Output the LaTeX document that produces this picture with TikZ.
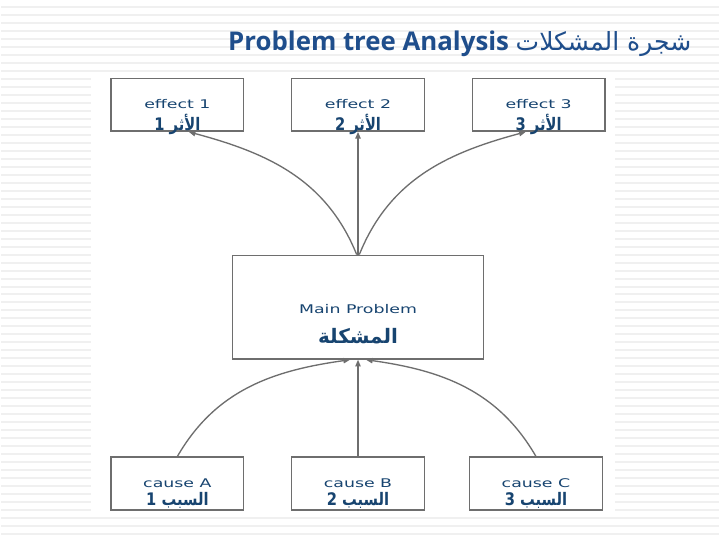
\documentclass[tikz,border=0pt]{standalone}
\usepackage{fontspec}
\usepackage{graphicx}
\usetikzlibrary{arrows.meta,positioning}
\setmainfont{DejaVu Sans}
\newfontfamily\arfont[Script=Arabic]{DejaVu Sans}
\newfontfamily\titlefont{Open Sans}
\TeXXeTstate=1
\definecolor{boxblue}{HTML}{174470}
\definecolor{titleblue}{HTML}{1F4E8C}
\definecolor{linegray}{HTML}{6E6E6E}
\definecolor{rulegray}{HTML}{F0F0F0}
\newcommand{\wide}[1]{\scalebox{1.45}[1]{#1}}
\newcommand{\artext}[1]{{\arfont\beginR #1\endR}}
\newcommand{\arlabel}[1]{{\fontsize{13}{13}\selectfont\bfseries\scalebox{0.85}[1]{\artext{#1}}}}

\begin{document}
\begin{tikzpicture}[
  x=0.75pt, y=0.75pt,
  >={Triangle[length=5pt,width=4pt]},
  box/.style={draw=linegray, line width=1.1pt, fill=white,
    minimum width=99.75pt, minimum height=39.75pt, inner sep=0pt},
  mainbox/.style={box, minimum width=189pt, minimum height=78pt},
  txt/.style={text=boxblue, align=center, inner sep=0pt,
    font=\fontsize{9}{10}\selectfont},
  link/.style={draw=linegray, line width=1pt, ->}
]
  % slide background with ruled lines
  \fill[white] (0,0) rectangle (720,540);
  \foreach \k in {0,...,66}
    \draw[rulegray, line width=1.5pt] (0,{532.7-8*\k}) -- (720,{532.7-8*\k});
  \fill[white] (90,22) rectangle (616,465);

  % title
  \node[text=titleblue] (title) at (460,496)
    {\titlefont\bfseries\fontsize{19.4}{21}\selectfont Problem tree Analysis
     {\mdseries\fontsize{18.8}{21}\selectfont\artext{شجرة المشكلات}}};

  % main problem with effects above and causes below
  \node[mainbox] (main) at (358,232) {};
  \node[box, above=92.25pt of main] (e2) {};
  \node[box, left=35pt of e2] (e1) {};
  \node[box, right=35pt of e2] (e3) {};
  \node[box, below=72.75pt of main] (c2) {};
  \node[box, left=35pt of c2] (c1) {};
  \node[box, right=33pt of c2] (c3) {};

  % box texts
  \node[txt] (e1t) at ([yshift=-9.5pt]e1.center) {\wide{effect 1}\\[3pt]\arlabel{الأثر 1}};
  \node[txt] (e2t) at ([yshift=-9.5pt]e2.center) {\wide{effect 2}\\[3pt]\arlabel{الأثر 2}};
  \node[txt] (e3t) at ([yshift=-9.5pt]e3.center) {\wide{effect 3}\\[3pt]\arlabel{الأثر 3}};
  \node[txt] (maint) at ([yshift=-13pt]main.center)
    {\wide{Main Problem}\\[10pt]{\fontsize{15}{16}\selectfont\bfseries\artext{المشكلة}}};
  \node[txt] (c1t) at ([yshift=-7.5pt]c1.center) {\wide{cause A}\\[2pt]\arlabel{السبب 1}};
  \node[txt] (c2t) at ([yshift=-7.5pt]c2.center) {\wide{cause B}\\[2pt]\arlabel{السبب 2}};
  \node[txt] (c3t) at ([yshift=-7.5pt]c3.center) {\wide{cause C}\\[2pt]\arlabel{السبب 3}};

  % connectors
  \draw[link] (main.north) -- (e2.south);
  \draw[link] ([xshift=-1pt]main.north) to[out=112, in=-15] ([xshift=8.6pt]e1.south);
  \draw[link] ([xshift=1pt]main.north) to[out=68, in=195] ([xshift=-9.75pt]e3.south);
  \draw[link] (c2.north) -- (main.south);
  \draw[link] (c1.north) to[out=60, in=188] ([xshift=-6pt]main.south);
  \draw[link] (c3.north) to[out=120, in=-8] ([xshift=6pt]main.south);
\end{tikzpicture}
\end{document}
